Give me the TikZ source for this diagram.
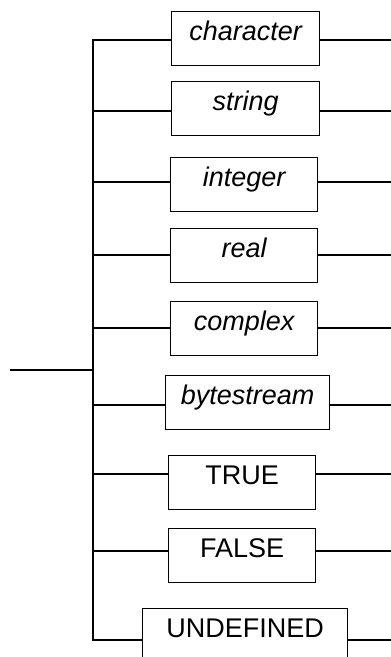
\documentclass[tikz,border=0pt]{standalone}
\usepackage{fontspec}
\setmainfont{Liberation Sans}
\usepackage{tikz}

\begin{document}
\begin{tikzpicture}[
    x=1pt, y=-1pt,
    tbox/.style={draw, rectangle, line width=1.3pt, inner sep=0pt, minimum width=147pt, text height=28.5pt, text depth=25.5pt, anchor=north west, font=\fontsize{27}{32}\selectfont},
    ibox/.style={tbox, font=\fontsize{27}{32}\selectfont\itshape},
    link/.style={line width=1.3pt}
]
\useasboundingbox (0,0) rectangle (391,657);
\node[ibox, minimum width=148pt] (char) at (171,11) {character};
\node[ibox, minimum width=148pt] (str) at (171,81) {string};
\node[ibox] (int) at (170,157) {integer};
\node[ibox] (real) at (170,228) {real};
\node[ibox] (cplx) at (170,301) {complex};
\node[ibox, minimum width=164pt] (bytes) at (165,375) {bytestream};
\node[tbox] (true) at (168,455) {TRUE};
\node[tbox] (false) at (168,528) {FALSE};
\node[tbox, minimum width=205pt] (undef) at (142,608) {UNDEFINED};
% branch points on the trunk
\coordinate (c1) at (93,40);
\coordinate (c2) at (93,111);
\coordinate (c3) at (93,182);
\coordinate (c4) at (93,255);
\coordinate (c5) at (93,328);
\coordinate (c6) at (93,405);
\coordinate (c7) at (93,474);
\coordinate (c8) at (93,551);
\coordinate (c9) at (93,640);
\coordinate (in) at (10,370);
\coordinate (out) at (391,0);
% trunk
\draw[link] (char.west |- c1) -- (c1) -- (c9) -- (undef.west |- c9);
\draw[link] (in) -- (in -| c1);
% branches
\draw[link] (c2) -- (c2 -| str.west);
\draw[link] (c3) -- (c3 -| int.west);
\draw[link] (c4) -- (c4 -| real.west);
\draw[link] (c5) -- (c5 -| cplx.west);
\draw[link] (c6) -- (c6 -| bytes.west);
\draw[link] (c7) -- (c7 -| true.west);
\draw[link] (c8) -- (c8 -| false.west);
% exits
\draw[link] (c1 -| char.east) -- (c1 -| out);
\draw[link] (c2 -| str.east) -- (c2 -| out);
\draw[link] (c3 -| int.east) -- (c3 -| out);
\draw[link] (c4 -| real.east) -- (c4 -| out);
\draw[link] (c5 -| cplx.east) -- (c5 -| out);
\draw[link] (c6 -| bytes.east) -- (c6 -| out);
\draw[link] (c7 -| true.east) -- (c7 -| out);
\draw[link] (c8 -| false.east) -- (c8 -| out);
\draw[link] (c9 -| undef.east) -- (c9 -| out);
\end{tikzpicture}
\end{document}
